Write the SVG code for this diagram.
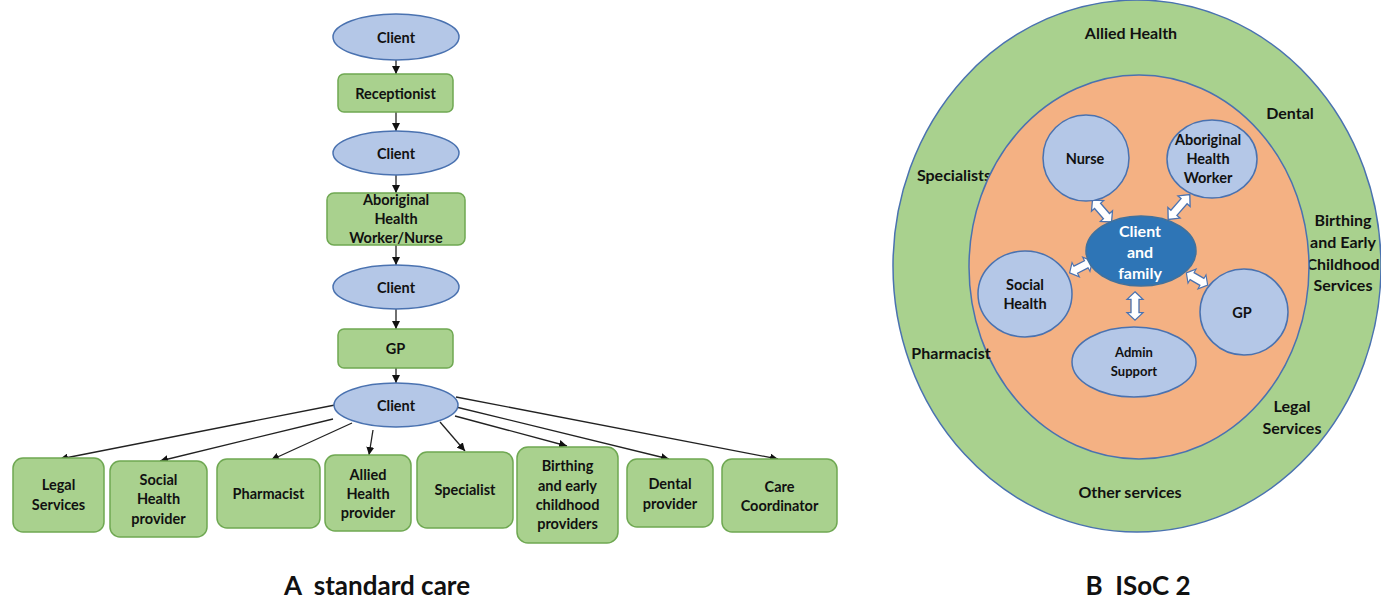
<svg xmlns="http://www.w3.org/2000/svg" width="1381" height="600" viewBox="0 0 1381 600">
<style>
text{font-family:Lato,"Liberation Sans",sans-serif;font-weight:bold;fill:#111;text-anchor:middle;dominant-baseline:central}
.t{font-size:14.5px}
.ell{fill:#B4C7E7;stroke:#4A72B0;stroke-width:1.5}
.box{fill:#A9D18E;stroke:#6FA852;stroke-width:1.5}
.con line{stroke:#222;stroke-width:1.3;marker-end:url(#ah)}
.lab{font-size:16px}
.title{font-size:26px;white-space:pre}
.dbl{fill:#fff;stroke:#4A72B0;stroke-width:1.3}
.cf{font-size:16px;fill:#fff}
</style>
<defs>
<marker id="ah" viewBox="0 0 10 10" refX="10" refY="5" markerWidth="8" markerHeight="8" markerUnits="userSpaceOnUse" orient="auto">
<path d="M0,0 L10,5 L0,10 z" fill="#111"/>
</marker>
<polygon id="darr" class="dbl" points="-15,0 -7,-8 -7,-4 7,-4 7,-8 15,0 7,8 7,4 -7,4 -7,8"/>
</defs>
<rect width="1381" height="600" fill="#fff"/>

<!-- A: standard care -->
<g class="con" id="connectors-a">
<line x1="396" y1="60" x2="396" y2="74"/>
<line x1="396" y1="112" x2="396" y2="131"/>
<line x1="396" y1="175" x2="396" y2="193"/>
<line x1="396" y1="245" x2="396" y2="265"/>
<line x1="396" y1="309" x2="396" y2="329"/>
<line x1="396" y1="368" x2="396" y2="383"/>
<line x1="335" y1="405" x2="60" y2="459"/>
<line x1="333" y1="419" x2="160" y2="461"/>
<line x1="352" y1="423" x2="271" y2="460"/>
<line x1="373" y1="430" x2="369" y2="455"/>
<line x1="440" y1="422" x2="465" y2="451"/>
<line x1="455" y1="416" x2="567" y2="446"/>
<line x1="456" y1="407" x2="669" y2="459"/>
<line x1="456" y1="397" x2="778" y2="459"/>
</g>

<g id="client1"><ellipse class="ell" cx="396" cy="37" rx="63" ry="23"/><text class="t" x="396" y="37">Client</text></g>
<g id="receptionist"><rect class="box" x="338" y="74" width="115" height="38" rx="6"/><text class="t" x="395.5" y="93">Receptionist</text></g>
<g id="client2"><ellipse class="ell" cx="396" cy="153" rx="63" ry="22"/><text class="t" x="396" y="153">Client</text></g>
<g id="ahw-nurse"><rect class="box" x="327" y="193" width="138" height="52" rx="7"/><text class="t" x="396" y="199">Aboriginal</text><text class="t" x="396" y="218">Health</text><text class="t" x="396" y="237">Worker/Nurse</text></g>
<g id="client3"><ellipse class="ell" cx="396" cy="287" rx="63" ry="22"/><text class="t" x="396" y="287">Client</text></g>
<g id="gp-a"><rect class="box" x="338" y="329" width="115" height="39" rx="6"/><text class="t" x="395.5" y="348.5">GP</text></g>
<g id="client4"><ellipse class="ell" cx="396" cy="405" rx="62" ry="22"/><text class="t" x="396" y="405">Client</text></g>

<g id="legal"><rect class="box" x="13" y="458" width="91" height="74" rx="10"/><text class="t" x="58.5" y="484">Legal</text><text class="t" x="58.5" y="504">Services</text></g>
<g id="social"><rect class="box" x="110" y="461" width="97" height="76" rx="10"/><text class="t" x="158.5" y="479">Social</text><text class="t" x="158.5" y="498">Health</text><text class="t" x="158.5" y="518">provider</text></g>
<g id="pharmacist"><rect class="box" x="217" y="459" width="103" height="69" rx="10"/><text class="t" x="268.5" y="493">Pharmacist</text></g>
<g id="allied"><rect class="box" x="325" y="455" width="86" height="76" rx="10"/><text class="t" x="368" y="474">Allied</text><text class="t" x="368" y="493">Health</text><text class="t" x="368" y="512">provider</text></g>
<g id="specialist"><rect class="box" x="417" y="452" width="96" height="76" rx="10"/><text class="t" x="465" y="489">Specialist</text></g>
<g id="birthing"><rect class="box" x="517" y="447" width="101" height="96" rx="11"/><text class="t" x="567.5" y="465">Birthing</text><text class="t" x="567.5" y="485">and early</text><text class="t" x="567.5" y="504">childhood</text><text class="t" x="567.5" y="523">providers</text></g>
<g id="dental"><rect class="box" x="627" y="459" width="86" height="68" rx="10"/><text class="t" x="670" y="483">Dental</text><text class="t" x="670" y="503">provider</text></g>
<g id="care"><rect class="box" x="722" y="459" width="115" height="73" rx="10"/><text class="t" x="779.5" y="486">Care</text><text class="t" x="779.5" y="505">Coordinator</text></g>

<text class="title" x="377" y="585" xml:space="preserve">A  standard care</text>

<!-- B: ISoC 2 -->
<g id="outer-ring">
<ellipse cx="1137" cy="266" rx="244" ry="266" fill="#A9D18E" stroke="#4A72B0" stroke-width="1.5"/>
<text class="lab" x="1131" y="32">Allied Health</text>
<text class="lab" x="1290" y="112">Dental</text>
<text class="lab" x="954" y="174">Specialists</text>
<text class="lab" x="1343" y="219">Birthing</text>
<text class="lab" x="1343" y="241">and Early</text>
<text class="lab" x="1343" y="263">Childhood</text>
<text class="lab" x="1343" y="284">Services</text>
<text class="lab" x="1292" y="405">Legal</text>
<text class="lab" x="1292" y="427">Services</text>
<text class="lab" x="1130" y="491">Other services</text>
</g>
<g id="inner-ring">
<ellipse cx="1139" cy="267" rx="170" ry="192" fill="#F4B183" stroke="#4A72B0" stroke-width="1.5"/>
</g>
<text class="lab" x="951" y="352">Pharmacist</text>

<g id="connectors-b">
<use href="#darr" transform="translate(1102,211) rotate(49) scale(0.97,1)"/>
<use href="#darr" transform="translate(1179,207) rotate(131) scale(1.1,1)"/>
<use href="#darr" transform="translate(1081,267) rotate(-27) scale(0.85,1)"/>
<use href="#darr" transform="translate(1197,279) rotate(30) scale(0.82,1)"/>
<use href="#darr" transform="translate(1135,306) rotate(90) scale(0.95,1)"/>
</g>

<g id="nurse"><ellipse class="ell" cx="1086" cy="158" rx="43" ry="43"/><text class="t" x="1085" y="158">Nurse</text></g>
<g id="ahw"><ellipse class="ell" cx="1212" cy="159" rx="45" ry="39"/><text class="t" x="1208" y="139">Aboriginal</text><text class="t" x="1208" y="158">Health</text><text class="t" x="1208" y="177">Worker</text></g>
<g id="client-family"><ellipse cx="1141" cy="251" rx="55" ry="35" fill="#2E75B6" stroke="#41719C" stroke-width="1.5"/><text class="cf" x="1140" y="230">Client</text><text class="cf" x="1140" y="251">and</text><text class="cf" x="1140" y="272">family</text></g>
<g id="social-health"><ellipse class="ell" cx="1025" cy="294" rx="47" ry="43"/><text class="t" x="1025" y="284">Social</text><text class="t" x="1025" y="303">Health</text></g>
<g id="gp-b"><ellipse class="ell" cx="1244" cy="312" rx="44" ry="43"/><text class="t" x="1242" y="312">GP</text></g>
<g id="admin"><ellipse class="ell" cx="1134" cy="362" rx="62" ry="35"/><text class="t" x="1134" y="352" style="font-size:13px">Admin</text><text class="t" x="1134" y="371" style="font-size:13px">Support</text></g>

<text class="title" x="1138" y="585" xml:space="preserve">B  ISoC 2</text>
</svg>
